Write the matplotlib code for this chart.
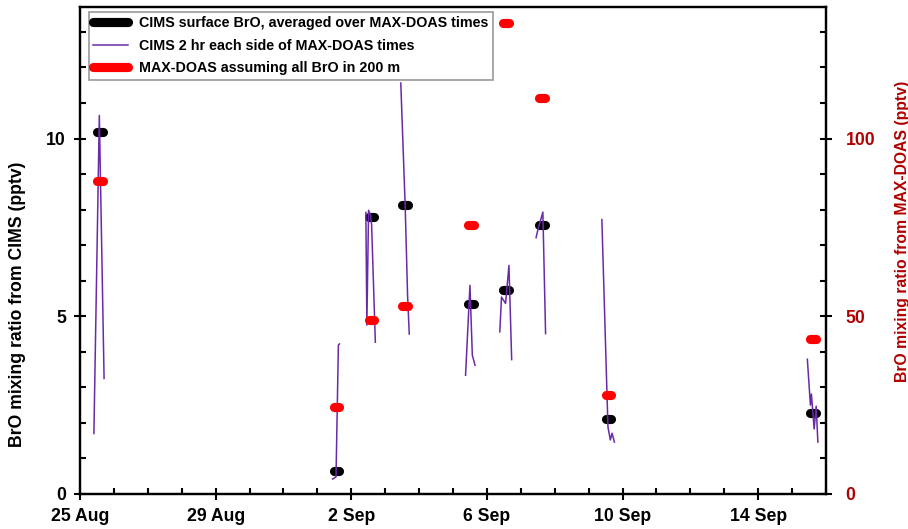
import matplotlib
matplotlib.use("Agg")
import matplotlib.pyplot as plt
from matplotlib.ticker import MultipleLocator

plt.rcParams['font.family'] = ['Liberation Sans', 'DejaVu Sans']
plt.rcParams['font.weight'] = 'bold'

# time axis: days after 25 Aug 00:00
tick_days = [0, 4, 8, 12, 16, 20]
tick_labels = ["25 Aug", "29 Aug", "2 Sep", "6 Sep", "10 Sep", "14 Sep"]

# MAX-DOAS times
doas_day = [0.59, 7.56, 8.59, 9.59, 11.53, 12.56, 13.62, 15.59, 21.62]
# CIMS surface BrO averaged over MAX-DOAS times (pptv, left axis)
cims_avg = [10.17, 0.65, 7.78, 8.12, 5.34, 5.73, 7.56, 2.11, 2.27]
# MAX-DOAS, all BrO in 200 m (pptv, right axis)
doas_bro = [88, 24.4, 48.9, 52.8, 75.8, 132.6, 111.5, 27.8, 43.5]

# CIMS 2 hr each side of MAX-DOAS times
trace_day = [
    [0.41, 0.57, 0.71],
    [7.45, 7.55, 7.62, 7.65],
    [8.43, 8.46, 8.51, 8.57, 8.60, 8.71],
    [9.46, 9.59, 9.66, 9.71],
    [11.37, 11.50, 11.57, 11.60, 11.65],
    [12.38, 12.43, 12.55, 12.65, 12.73],
    [13.45, 13.50, 13.65, 13.73],
    [15.39, 15.57, 15.64, 15.69, 15.76],
    [21.45, 21.54, 21.57, 21.65, 21.71, 21.76],
]
trace_bro = [
    [1.7, 10.65, 3.25],
    [0.42, 0.48, 4.19, 4.22],
    [7.92, 4.75, 7.98, 7.84, 7.56, 4.27],
    [11.56, 8.1, 5.6, 4.5],
    [3.34, 5.87, 3.9, 3.8, 3.62],
    [4.56, 5.54, 5.36, 6.43, 3.78],
    [7.21, 7.42, 7.93, 4.51],
    [7.72, 1.88, 1.52, 1.71, 1.46],
    [3.79, 2.5, 2.81, 1.83, 2.47, 1.46],
]

fig = plt.figure(figsize=(9.08, 5.29), dpi=100)
ax = fig.add_axes([0.0881, 0.0662, 0.8216, 0.9206])
ax2 = ax.twinx()

hw = 0.08  # half width of the averaging bars
purple = '#6a2aa8'
for i in range(len(doas_day)):
    t = doas_day[i]
    ax.plot([t - hw, t + hw], [cims_avg[i], cims_avg[i]], color='black', lw=6.6,
            solid_capstyle='round', label="CIMS surface BrO, averaged over MAX-DOAS times" if i == 0 else None)
for i in range(len(trace_day)):
    ax.plot(trace_day[i], trace_bro[i], color=purple, lw=1.1,
            label="CIMS 2 hr each side of MAX-DOAS times" if i == 0 else None)
for i in range(len(doas_day)):
    t = doas_day[i]
    ax2.plot([t - hw, t + hw], [doas_bro[i], doas_bro[i]], color='red', lw=6.6,
             solid_capstyle='round', label="MAX-DOAS assuming all BrO in 200 m" if i == 0 else None)

ax.set_xlim(0, 22)
ax.set_ylim(0, 13.7)
ax2.set_ylim(0, 137)

ax.set_xticks(tick_days)
ax.set_xticklabels(tick_labels)
ax.xaxis.set_minor_locator(MultipleLocator(1))
ax.set_yticks([0, 5, 10])
ax.yaxis.set_minor_locator(MultipleLocator(1))
ax2.set_yticks([0, 50, 100])
ax2.yaxis.set_minor_locator(MultipleLocator(10))

ax.tick_params(axis='both', which='major', direction='inout', length=8, width=1.5,
               labelsize=12.7, pad=6)
ax.tick_params(axis='both', which='minor', direction='in', length=4, width=1.5)
ax.tick_params(axis='x', which='both', top=False)
ax2.tick_params(axis='y', which='major', direction='inout', length=8, width=1.5,
                labelsize=12.7, pad=10, colors='black', labelcolor='#b00000')
ax2.tick_params(axis='y', which='minor', direction='in', length=4, width=1.5)

for a in (ax, ax2):
    for s in a.spines.values():
        s.set_linewidth(1.6)

ax.set_ylabel("BrO mixing ratio from CIMS (pptv)", fontsize=12.7, fontweight='bold')
ax.yaxis.set_label_coords(-0.072, 0.39)
ax2.set_ylabel("BrO mixing ratio from MAX-DOAS (pptv)", fontsize=11.3, fontweight='bold',
               color='#b00000', rotation=90)
ax2.yaxis.set_label_coords(1.092, 0.54)

h1, l1 = ax.get_legend_handles_labels()
h2, l2 = ax2.get_legend_handles_labels()
leg = ax2.legend(h1 + h2, l1 + l2, loc='upper left', bbox_to_anchor=(0.012, 0.99),
                 fontsize=10.3, frameon=True, fancybox=False, framealpha=1,
                 edgecolor='#999999', handlelength=2.4, borderaxespad=0,
                 labelspacing=0.6, borderpad=0.3)
leg.get_frame().set_linewidth(1.2)

fig.savefig("out.png", dpi=100)
